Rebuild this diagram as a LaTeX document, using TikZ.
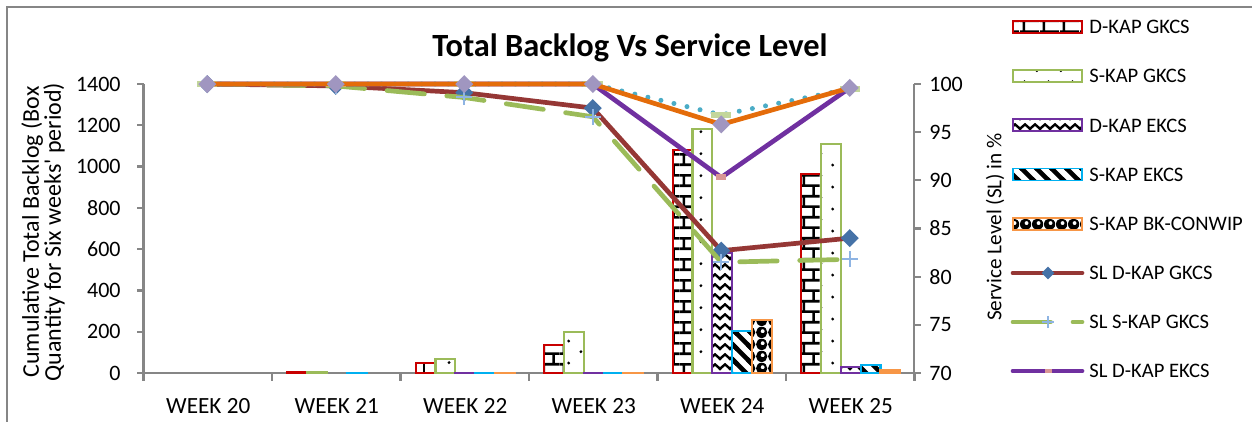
\documentclass[tikz,border=0pt]{standalone}
\usepackage{fontspec}
\setmainfont{Carlito}
\usetikzlibrary{patterns.meta}

\definecolor{axisGray}{RGB}{134,134,134}
\definecolor{gkcsRed}{RGB}{200,0,0}
\definecolor{gkcsGreen}{RGB}{155,187,89}
\definecolor{ekcsPurple}{RGB}{112,48,160}
\definecolor{ekcsCyan}{RGB}{0,176,240}
\definecolor{conwipOrange}{RGB}{247,150,70}
\definecolor{slRed}{RGB}{149,55,53}
\definecolor{slTeal}{RGB}{75,172,198}
\definecolor{slOrange}{RGB}{228,108,10}
\definecolor{markBlue}{RGB}{69,114,167}
\definecolor{markLav}{RGB}{160,150,192}
\definecolor{markPlus}{RGB}{142,180,227}
\definecolor{markPink}{RGB}{217,150,148}
\definecolor{markLime}{RGB}{195,214,155}

% fill patterns of the bars
\tikzdeclarepattern{
  name=brickwall, type=uncolored,
  bounding box={(0pt,0pt) and (10pt,10.7pt)},
  tile size={(10pt,10.7pt)},
  code={
    \draw[line width=1.3pt] (0pt,2.7pt) -- (10pt,2.7pt) (0pt,8.05pt) -- (10pt,8.05pt)
      (2pt,2.7pt) -- (2pt,8.05pt) (7pt,8.05pt) -- (7pt,10.7pt) (7pt,0pt) -- (7pt,2.7pt);
  }
}
\tikzdeclarepattern{
  name=sparsedots, type=uncolored,
  bounding box={(0pt,0pt) and (12pt,10.8pt)},
  tile size={(12pt,10.8pt)},
  code={\fill (2.5pt,2.7pt) circle[radius=0.8pt] (8.5pt,8.1pt) circle[radius=0.8pt];}
}
\tikzdeclarepattern{
  name=zigzagrows, type=uncolored,
  bounding box={(-1pt,0pt) and (6pt,5pt)},
  tile size={(5pt,5pt)},
  code={\draw[line width=1.2pt] (-0.5pt,1.2pt) -- (2.5pt,3.8pt) -- (5.5pt,1.2pt);}
}
\tikzdeclarepattern{
  name=widediag, type=uncolored,
  bounding box={(-2pt,-2pt) and (9.5pt,9.5pt)},
  tile size={(7.5pt,7.5pt)},
  code={\draw[line width=2.3pt] (-2pt,9.5pt) -- (9.5pt,-2pt);}
}
\tikzdeclarepattern{
  name=spheres, type=uncolored,
  bounding box={(0pt,0pt) and (6pt,6pt)},
  tile size={(6pt,6pt)},
  code={\fill[even odd rule] (3pt,3pt) circle[radius=3pt] (3.5pt,3.6pt) circle[radius=1.1pt];}
}

\tikzset{%
  declare function={wkx(\i)=207.25+128.5*\i; bky(\v)=373-0.206429*\v;
                    sly(\v)=373-9.633*(\v-70);},
  % axes and texts
      axisline/.style = {draw=axisGray, line width=1.1pt},
     ticklabel/.style = {inner sep=0pt, font=\fontsize{11}{13}\selectfont},
      catlabel/.style = {inner sep=0pt, font=\fontsize{11.6}{14}\selectfont},
    legendtext/.style = {anchor=west, inner sep=0pt, font=\fontsize{10.3}{12}\selectfont},
     axistitle/.style = {inner sep=0pt, rotate=90, align=center},
    charttitle/.style = {inner sep=0pt, anchor=base, font=\bfseries\fontsize{16.2}{18}\selectfont},
  % bars
       barbase/.style = {line width=1.1pt, pattern color=black},
         barDG/.style = {barbase, draw=gkcsRed, pattern=brickwall},
         barSG/.style = {barbase, draw=gkcsGreen, pattern=sparsedots},
         barDE/.style = {barbase, draw=ekcsPurple, pattern=zigzagrows},
         barSE/.style = {barbase, draw=ekcsCyan, pattern=widediag},
         barBK/.style = {barbase, draw=conwipOrange, pattern=spheres},
  % service level lines
        slbase/.style = {line width=2.35pt, line cap=round, line join=round},
          slDG/.style = {slbase, draw=slRed},
          slSG/.style = {slbase, draw=gkcsGreen, dash pattern=on 18.75pt off 11.25pt},
          slDE/.style = {slbase, draw=ekcsPurple},
          slSE/.style = {slbase, draw=slTeal, line width=2.5pt, dash pattern=on 0pt off 6.7pt},
          slBK/.style = {slbase, draw=slOrange},
  % markers
   diamondmark/.pic = {\fill[#1] (-9,0) -- (0,-9) -- (9,0) -- (0,9) -- cycle;},
      plusmark/.pic = {\draw[#1, line width=1pt] (-8,0) -- (8,0) (0,-8) -- (0,8);},
      dashmark/.pic = {\fill[#1] (-5,-3) rectangle (5,3);},
  widedashmark/.pic = {\fill[#1] (-10,-3) rectangle (10,3);},
}

\begin{document}
\begin{tikzpicture}[x=0.5pt, y=-0.5pt]
  \useasboundingbox (0,0) rectangle (1252,422);
  \draw[axisGray, line width=0.9pt] (7,422) -- (7,7) -- (1252,7);

  \node[charttitle] (title) at (630,57) {Total Backlog Vs Service Level};

  % axes, ticks and tick labels
  \draw[axisline] (143.5,84) -- (143.5,373) -- (914,373) -- (914,84);
  \foreach \v [count=\k from 0] in {0,200,...,1400} {
    \draw[axisline] (137,{bky(\v)}) -- (143.5,{bky(\v)});
    \node[ticklabel, anchor=east] (bk\k) at (121,{bky(\v)}) {\v};
  }
  \foreach \v [count=\k from 0] in {70,75,...,100} {
    \draw[axisline] (914,{sly(\v)}) -- (921,{sly(\v)});
    \node[ticklabel, anchor=west] (sl\k) at (929,{sly(\v)}) {\v};
  }
  \foreach \k in {0,...,6}
    \draw[axisline] ({143.5+128.5*\k},373) -- ++(0,8);
  \foreach \w [count=\k from 0] in {20,...,25}
    \node[catlabel] (wk\w) at ({wkx(\k)+1},406) {WEEK \w};

  \node[axistitle, font=\fontsize{12}{11}\selectfont] (bktitle) at (43,232)
    {Cumulative Total Backlog (Box\\Quantity for Six weeks\textquotesingle{} period)};
  \node[axistitle, font=\fontsize{10.6}{12}\selectfont] (sltitle) at (995,227)
    {Service Level (SL) in \%};

  % backlog bars
  \foreach \k/\v in {1/5,2/48,3/135,4/1080,5/964}
    \draw[barDG] ({wkx(\k)-48.5},373) rectangle ++(19.8,{-0.206429*\v});
  \foreach \k/\v in {1/6,2/68,3/199,4/1182,5/1109}
    \draw[barSG] ({wkx(\k)-28.7},373) rectangle ++(19.8,{-0.206429*\v});
  \foreach \k/\v in {2/1,3/1,4/581,5/29}
    \draw[barDE] ({wkx(\k)-8.9},373) rectangle ++(19.8,{-0.206429*\v});
  \foreach \k/\v in {1/1,2/1,3/1,4/203,5/39}
    \draw[barSE] ({wkx(\k)+10.9},373) rectangle ++(19.8,{-0.206429*\v});
  \foreach \k/\v in {2/1,3/1,4/257,5/12}
    \draw[barBK] ({wkx(\k)+30.7},373) rectangle ++(19.8,{-0.206429*\v});

  % service level lines
  \draw[slDG] (207.25,{sly(100)}) -- (335.75,{sly(99.8)}) -- (464.25,{sly(99.1)})
    -- (592.75,{sly(97.5)}) -- (721.25,{sly(82.7)}) -- (849.75,{sly(84.0)});
  \foreach \k/\v in {0/100,1/99.8,2/99.1,3/97.5,4/82.7,5/84.0}
    \pic at ({wkx(\k)},{sly(\v)}) {diamondmark=markBlue};

  \draw[slSG] (207.25,{sly(100)}) -- (335.75,{sly(99.8)}) -- (464.25,{sly(98.6)})
    -- (592.75,{sly(96.6)}) -- (721.25,{sly(81.5)}) -- (849.75,{sly(81.8)});
  \foreach \k/\v in {0/100,1/99.8,2/98.6,3/96.6,4/81.5,5/81.8}
    \pic at ({wkx(\k)},{sly(\v)}) {plusmark=markPlus};

  \draw[slDE] (207.25,{sly(100)}) -- (335.75,{sly(100)}) -- (464.25,{sly(100)})
    -- (592.75,{sly(100)}) -- (721.25,{sly(90.3)}) -- (849.75,{sly(99.6)});
  \foreach \k/\v in {0/100,1/100,2/100,3/100,4/90.3,5/99.6}
    \pic at ({wkx(\k)},{sly(\v)}) {dashmark=markPink};

  \draw[slSE] (207.25,{sly(100)}) -- (335.75,{sly(100)}) -- (464.25,{sly(100)})
    -- (592.75,{sly(100)}) -- (721.25,{sly(96.8)}) -- (849.75,{sly(99.5)});
  \foreach \k/\v in {0/100,1/100,2/100,3/100,4/96.8,5/99.5}
    \pic at ({wkx(\k)},{sly(\v)}) {widedashmark=markLime};

  \draw[slBK] (207.25,{sly(100)}) -- (335.75,{sly(100)}) -- (464.25,{sly(100)})
    -- (592.75,{sly(100)}) -- (721.25,{sly(95.8)}) -- (849.75,{sly(99.6)});
  \foreach \k/\v in {0/100,1/100,2/100,3/100,4/95.8,5/99.6}
    \pic at ({wkx(\k)},{sly(\v)}) {diamondmark=markLav};

  % legend
  \foreach \s/\t [count=\k from 0] in {barDG/D-KAP GKCS, barSG/S-KAP GKCS,
      barDE/D-KAP EKCS, barSE/S-KAP EKCS, barBK/S-KAP BK-CONWIP} {
    \draw[\s, line width=0.9pt] (1013,{21+49.2*\k}) rectangle ++(69,12);
    \node[legendtext] (lg\k) at (1089,{27+49.2*\k}) {\t};
  }
  \draw[slDG] (1013,273) -- (1082,273);
  \pic[scale=0.7] at (1048,273) {diamondmark=markBlue};
  \node[legendtext] (lg5) at (1089,273) {SL D-KAP GKCS};
  \draw[slSG] (1013,322) -- (1082,322);
  \pic[scale=0.7] at (1048,322) {plusmark=markPlus};
  \node[legendtext] (lg6) at (1089,322) {SL S-KAP GKCS};
  \draw[slDE] (1013,371) -- (1082,371);
  \pic[scale=0.7] at (1048,371) {dashmark=markPink};
  \node[legendtext] (lg7) at (1089,371) {SL D-KAP EKCS};
\end{tikzpicture}
\end{document}
